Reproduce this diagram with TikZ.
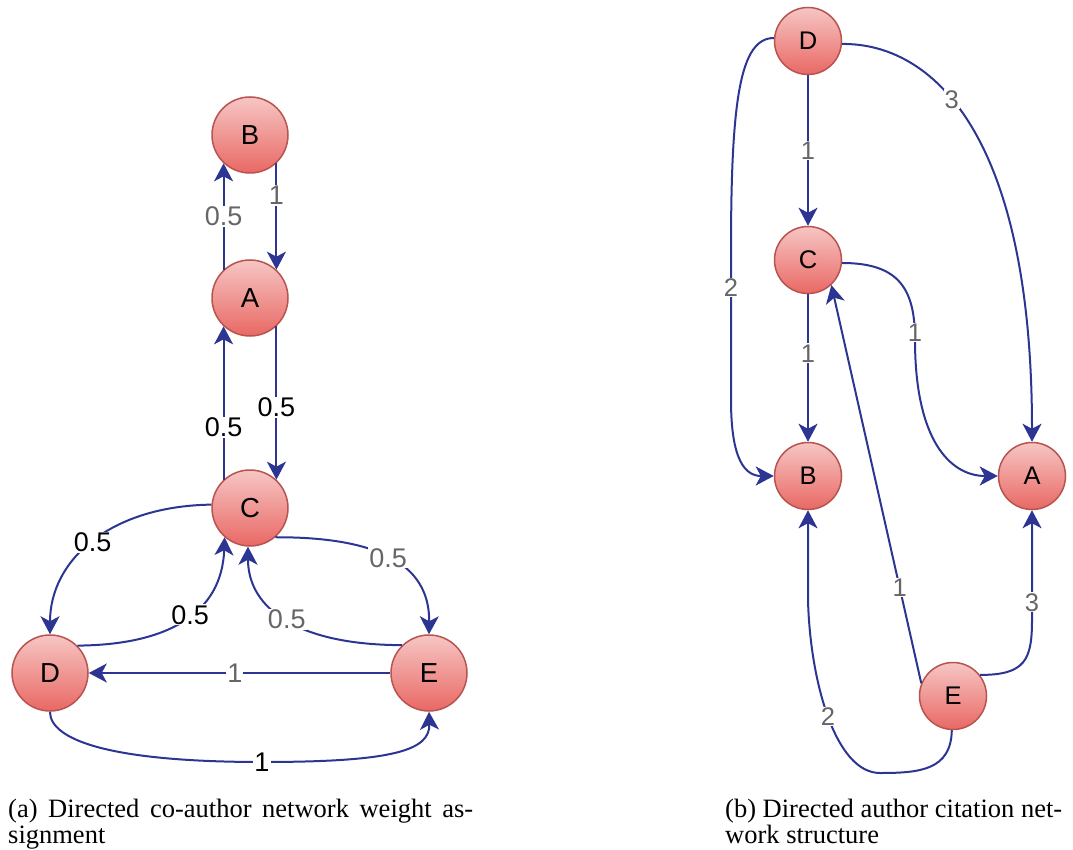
\documentclass[tikz,border=0pt]{standalone}
\usepackage{fontspec}
\setmainfont{Liberation Serif}
\newfontfamily\helv{Liberation Sans}
\usetikzlibrary{arrows.meta}

\definecolor{edgeblue}{RGB}{44,53,145}
\definecolor{nodeline}{RGB}{184,84,80}
\definecolor{nodetop}{RGB}{246,198,196}
\definecolor{nodebot}{RGB}{233,104,100}
\definecolor{lblgray}{RGB}{102,102,102}

\tikzset{
  vertex/.style={circle, draw=nodeline, line width=1.5pt, top color=nodetop,
    bottom color=nodebot, minimum size=76pt, inner sep=0pt,
    font=\helv\fontsize{27.5}{27.5}\selectfont},
  smallvertex/.style={vertex, minimum size=67pt,
    font=\helv\fontsize{25.5}{25.5}\selectfont},
  link/.style={draw=edgeblue, line width=2pt,
    -{Stealth[length=18pt,width=19pt,inset=5pt]}},
  lbl/.style={fill=white, inner sep=1pt, text=lblgray,
    font=\helv\fontsize{27}{27}\selectfont},
  lblk/.style={lbl, text=black},
  rlbl/.style={lbl, font=\helv\fontsize{25.5}{25.5}\selectfont},
  captext/.style={anchor=base west, inner sep=0pt,
    font=\fontsize{26.5}{26.5}\selectfont}
}

\begin{document}
\begin{tikzpicture}[x=1pt, y=-1pt]
\useasboundingbox (0,0) rectangle (1073,850);

% ---- (a) co-author network with weights ----
\node[vertex] (lB) at (250,135) {B};
\node[vertex] (lA) at (250,298) {A};
\node[vertex] (lC) at (250,508) {C};
\node[vertex] (lD) at (50,673) {D};
\node[vertex] (lE) at (429,673) {E};

\draw[link] (lB.-47) -- node[lbl,pos=.3]{1} (lA.47);
\draw[link] (lA.133) -- node[lbl]{0.5} (lB.-133);
\draw[link] (lA.-47) -- node[lblk,pos=.53]{0.5} (lC.47);
\draw[link] (lC.133) -- node[lblk,pos=.34]{0.5} (lA.-133);

\draw[link] (lC.175) .. controls (110,506) and (50,560) .. node[lblk]{0.5} (lD.north);
\draw[link] (lD.45) .. controls (165,645) and (222,615) .. node[lblk,pos=.55]{0.5} (lC.-131);
\draw[link] (lC.-49) .. controls (370,537) and (430,560) .. node[lbl]{0.5} (lE.north);
\draw[link] (lE.134) .. controls (300,645) and (248,610) .. node[lbl]{0.5} (lC.-93);
\draw[link] (lE.west) -- node[lbl,pos=.515]{1} (lD.east);
\draw[link] (lD.south) .. controls (50,740) and (110,762) .. (262,762) node[lblk]{1}
  .. controls (395,762) and (430,750) .. (lE.south);

% ---- (b) author citation network ----
\node[smallvertex] (rD) at (808,41) {D};
\node[smallvertex] (rC) at (808,260) {C};
\node[smallvertex] (rB) at (808,476) {B};
\node[smallvertex] (rA) at (1032,476) {A};
\node[smallvertex] (rE) at (953,696) {E};

\draw[link] (rD.south) -- node[rlbl]{1} (rC.north);
\draw[link] (rC.south) -- node[rlbl,pos=.4]{1} (rB.north);
\draw[link] (rD.-5) .. controls (930,43) and (1032,130) .. node[rlbl,pos=.42]{3} (rA.north);
\draw[link] (rD.175) .. controls (740,38) and (731,100) .. (731,250)
  -- node[rlbl,pos=.25]{2} (731,400) .. controls (731,460) and (745,476) .. (rB.west);
\draw[link] (rC.-5) .. controls (900,263) and (915,290) .. node[rlbl,pos=.95]{1} (915,340)
  .. controls (915,440) and (950,476) .. (rA.west);
\draw[link] (rE.158) -- node[rlbl,pos=.24]{1} (rC.-47);
\draw[link] (rE.38) .. controls (1025,675) and (1032,660) .. (1032,620)
  -- node[rlbl,pos=.16]{3} (rA.south);
\draw[link] (rE.-92) .. controls (951,770) and (920,773) .. (880,773)
  .. controls (835,773) and (810,680) .. node[rlbl]{2} (808,600) -- (rB.south);

% ---- captions ----
\node[captext] (capa1) at (8,817) {\makebox[465pt][s]{(a) Directed co-author network weight as-}};
\node[captext] (capa2) at (8,843) {signment};
\node[captext] (capb1) at (725,817) {\makebox[337pt][s]{(b) Directed author citation net-}};
\node[captext] (capb2) at (725,843) {work structure};
\end{tikzpicture}
\end{document}
